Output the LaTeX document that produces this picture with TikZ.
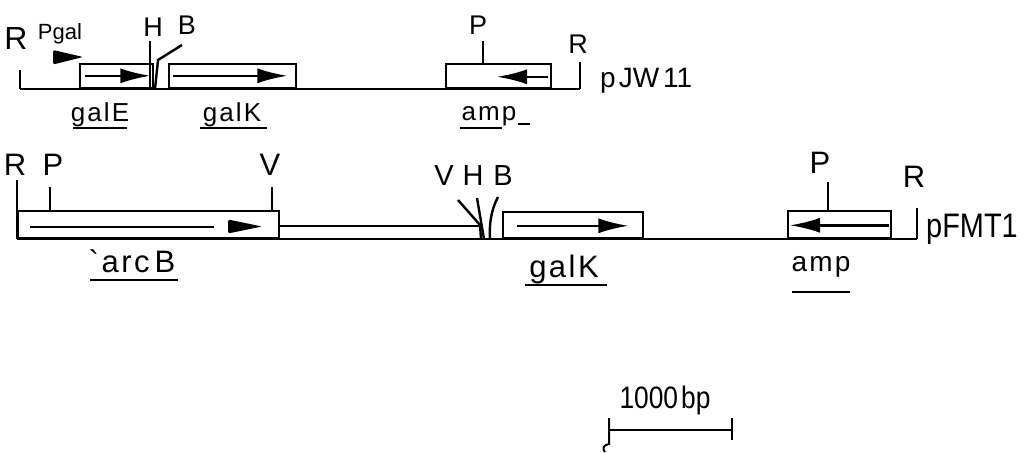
\documentclass[tikz,border=0pt]{standalone}
\usepackage{fontspec}
\setmainfont{Liberation Sans}
\newfontfamily\condfont[FakeStretch=0.85]{Liberation Sans}
\newfontfamily\genefont[LetterSpace=8]{Liberation Sans}
\usetikzlibrary{arrows.meta}
\begin{document}
\begin{tikzpicture}[x=1pt,y=-1pt,line width=2.4pt,
  lbl/.style={inner sep=0pt,anchor=base},
  site/.style={lbl,font=\fontsize{27}{27}\selectfont},
  bsite/.style={lbl,font=\fontsize{31}{31}\selectfont},
  gname/.style={lbl,font=\genefont\fontsize{26}{26}\selectfont},
  bgname/.style={lbl,font=\genefont\fontsize{31}{31}\selectfont},
  gbox/.style={draw,line width=2.4pt,inner sep=0pt,anchor=south west},
  gene/.style={line width=2.4pt,-{Latex[length=30pt,width=15pt]}},
  uline/.style={line width=2.2pt}]
\useasboundingbox (0,0) rectangle (1027,452);
\fill[white] (0,0) rectangle (1027,452);

% ---------------- pJW11 ----------------
\coordinate (t0) at (20,89);
\coordinate (t1) at (580,89);
\draw (t0) -- (t1);
\node[gbox,minimum width=73pt,minimum height=24pt] (galEbox) at (79,89) {};
\node[gbox,minimum width=127pt,minimum height=24pt] (galKbox) at (168,89) {};
\node[gbox,minimum width=105pt,minimum height=24pt] (ampbox) at (445,89) {};
\draw[gene] ([xshift=6pt]galEbox.west) -- ([xshift=-4pt]galEbox.east);
\draw[gene] ([xshift=5pt]galKbox.west) -- ([xshift=-10pt]galKbox.east);
\draw[gene] ([xshift=-4pt,yshift=-1pt]ampbox.east) -- ([xshift=52pt,yshift=-1pt]ampbox.west);

\node[lbl,font=\fontsize{32}{32}\selectfont] (tR1) at (16,50) {R};
\coordinate (tR1a) at (20,70);
\draw (tR1a) -- (t0);
\node[lbl,font=\fontsize{22}{22}\selectfont] (pgal) at (60,40) {Pgal};
\fill[rounded corners=1.5pt] (53,50) -- (83,57) -- (53,64.5) -- cycle;
\node[site] (tH) at (153,37) {H};
\coordinate (tHa) at (150,41);
\coordinate (tHb) at (150,89);
\draw (tHa) -- (tHb);
\node[site] (tB) at (187,35) {B};
\coordinate (tBa) at (182,45);
\coordinate (tBb) at (158,60);
\coordinate (tBc) at (155,89);
\draw (tBa) -- (tBb) -- (tBc);
\node[site] (tP) at (478,35) {P};
\coordinate (tPa) at (483,41);
\draw (tPa) -- (tPa |- ampbox.north);
\node[site] (tR2) at (578,53) {R};
\coordinate (tR2a) at (580,62);
\draw (tR2a) -- (t1);
\node[lbl,anchor=base west,font=\fontsize{28}{28}\selectfont] (pJW) at (599,87) {p\kern3pt JW\kern4pt 11};

\node[gname] (galE) at (100,121) {galE};
\node[gname] (galK1) at (232,121) {galK};
\node[gname] (amp1) at (489,120) {amp};
\draw[uline] (73,128) -- (127,128);
\draw[uline] (200,128) -- (267,128);
\draw[uline] (460,128) -- (502,128);
\draw[uline] (518,124) -- (530,124);

% ---------------- pFMT1 ----------------
\coordinate (b0) at (17,239);
\coordinate (b1) at (917,239);
\draw (b0) -- (b1);
\node[gbox,minimum width=261pt,minimum height=27pt] (arcbox) at (17,239) {};
\node[gbox,minimum width=140pt,minimum height=26pt] (galKbox2) at (502,239) {};
\node[gbox,minimum width=103pt,minimum height=27pt] (ampbox2) at (787,239) {};
\coordinate (ins1) at (278,226);
\coordinate (ins2) at (480,226);
\draw (ins1) -- (ins2);

\draw (30,227) -- (214,227);
\fill[rounded corners=1.5pt] (228,219.5) -- (262,226.5) -- (228,233.5) -- cycle;
\draw[gene] ([xshift=15pt,yshift=-1pt]galKbox2.west) -- ([xshift=-16pt,yshift=-1pt]galKbox2.east);
\draw[gene] ([xshift=-3pt,yshift=-1pt]ampbox2.east) -- ([xshift=3pt,yshift=-1pt]ampbox2.west);

\node[bsite] (bR1) at (15,175) {R};
\coordinate (bR1a) at (17,180);
\draw (bR1a) -- (b0);
\node[bsite] (bP1) at (53,175) {P};
\coordinate (bP1a) at (50,187);
\draw (bP1a) -- (bP1a |- arcbox.north);
\node[bsite] (bV1) at (270,175) {V};
\coordinate (bV1a) at (272,187);
\draw (bV1a) -- (bV1a |- arcbox.north);

\node[site,font=\fontsize{29}{29}\selectfont] (bV2) at (444,185) {V};
\node[site,font=\fontsize{29}{29}\selectfont] (bH) at (473,185) {H};
\node[site,font=\fontsize{29}{29}\selectfont] (bB) at (503,185) {B};
\coordinate (bVa) at (458,200);
\coordinate (bVb) at (480,225);
\coordinate (bVc) at (481,239);
\draw (bVa) -- (bVb) -- (bVc);
\coordinate (bHa) at (477,198);
\coordinate (bHb) at (484,239);
\draw (bHa) -- (bHb);
\coordinate (bBa) at (498,197);
\coordinate (bBb) at (490,239);
\draw (bBa) .. controls (491,210) and (489,225) .. (bBb);

\node[bsite] (bP2) at (820,173) {P};
\coordinate (bP2a) at (828,182);
\draw (bP2a) -- (bP2a |- ampbox2.north);
\node[bsite] (bR2) at (914,187) {R};
\coordinate (bR2a) at (917,208);
\draw (bR2a) -- (b1);
\node[lbl,anchor=base west,font=\condfont\fontsize{34}{34}\selectfont] (pFMT) at (925,237) {pFMT1};

\node[bgname] (arcB) at (132,272) {`arc\kern5pt B};
\node[bgname] (galK2) at (564,277) {galK};
\node[lbl,font=\genefont\fontsize{28}{28}\selectfont] (amp2) at (821,271) {amp};
\draw[uline] (90,280) -- (178,280);
\draw[uline] (525,285) -- (607,285);
\draw[uline] (792,292) -- (850,292);

% ---------------- scale bar ----------------
\node[lbl,font=\condfont\fontsize{31}{31}\selectfont] (scale) at (665,408) {1000\kern3pt bp};
\coordinate (s0) at (609,430);
\coordinate (s1) at (732,430);
\draw[line width=2pt] (s0) -- (s1);
\draw[line width=2pt] (609,418) -- (609,444) .. controls (603,445) and (602,449) .. (605,452);
\draw[line width=2pt] (732,418) -- (732,440);
\end{tikzpicture}
\end{document}
